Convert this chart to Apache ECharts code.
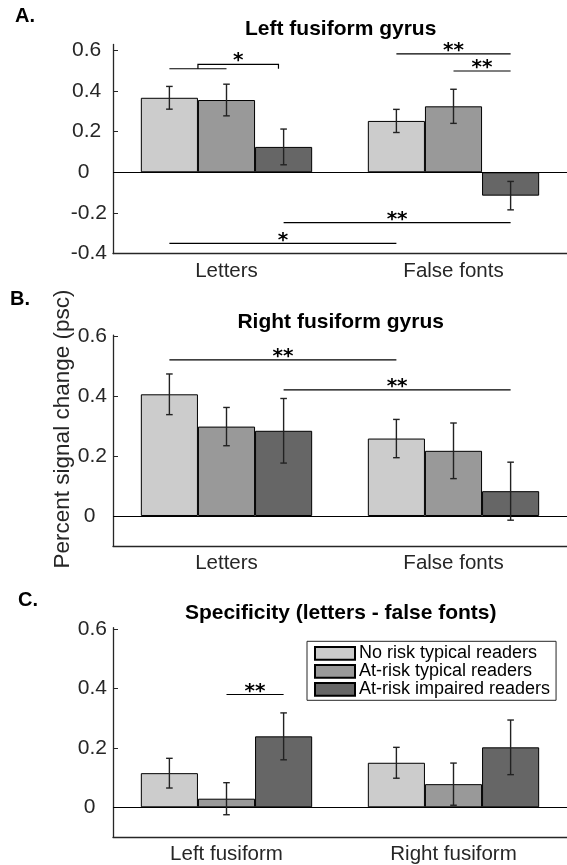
<!DOCTYPE html>
<html>
<head>
<meta charset="utf-8">
<script src="https://cdn.jsdelivr.net/npm/echarts@6/dist/echarts.min.js"></script>
<style>
  html, body { margin: 0; padding: 0; background: #fff; }
  #chart { width: 567px; height: 865px; }
</style>
</head>
<body>
<div id="chart"></div>
<script>
// ---------------- data ----------------
const groupNames = ['No risk typical readers', 'At-risk typical readers', 'At-risk impaired readers'];
const conditionCats = ['Letters', 'False fonts'];
const regionCats = ['Left fusiform', 'Right fusiform'];
const panelTitles = ['Left fusiform gyrus', 'Right fusiform gyrus', 'Specificity (letters - false fonts)'];
const panelLetters = ['A.', 'B.', 'C.'];
const yAxisTitle = 'Percent signal change (psc)';

// Panel A: left fusiform gyrus
const leftNoRisk = [0.367, 0.253];
const leftNoRiskErr = [0.056, 0.057];
const leftTypical = [0.356, 0.325];
const leftTypicalErr = [0.078, 0.084];
const leftImpaired = [0.125, -0.115];
const leftImpairedErr = [0.088, 0.070];

// Panel B: right fusiform gyrus
const rightNoRisk = [0.407, 0.259];
const rightNoRiskErr = [0.068, 0.064];
const rightTypical = [0.299, 0.218];
const rightTypicalErr = [0.064, 0.093];
const rightImpaired = [0.285, 0.083];
const rightImpairedErr = [0.108, 0.097];

// Panel C: specificity
const specNoRisk = [0.115, 0.150];
const specNoRiskErr = [0.050, 0.052];
const specTypical = [0.029, 0.078];
const specTypicalErr = [0.054, 0.071];
const specImpaired = [0.239, 0.202];
const specImpairedErr = [0.079, 0.092];

// y tick labels
const yTicksA = [-0.4, -0.2, 0, 0.2, 0.4, 0.6];
const yTicksBC = [0, 0.2, 0.4, 0.6];

// significance annotations: from/to = [category index, bar index], y = height of line
const sigA = [
  { from: [0, 0], to: [0, 1], y: 0.510, text: '' },
  { from: [0, 0.5], to: [0, 1.91], y: 0.510, top: 0.532, text: '*' },
  { from: [1, 0], to: [1, 2], y: 0.583, text: '**' },
  { from: [1, 1], to: [1, 2], y: 0.499, text: '**' },
  { from: [0, 2], to: [1, 2], y: -0.248, text: '**' },
  { from: [0, 0], to: [1, 0], y: -0.350, text: '*' }
];
const sigB = [
  { from: [0, 0], to: [1, 0], y: 0.522, text: '**' },
  { from: [0, 2], to: [1, 2], y: 0.422, text: '**' }
];
const sigC = [
  { from: [0, 1], to: [0, 2], y: 0.380, text: '**' }
];

// ---------------- styling / layout ----------------
const FONT = '"Liberation Sans", Arial, Helvetica, sans-serif';
const AXIS_COLOR = '#262626';
const barColors = ['#cccccc', '#999999', '#666666'];
const BW = 0.2516; // bar width as fraction of a category band

const panels = [
  { cats: conditionCats, vals: [leftNoRisk, leftTypical, leftImpaired], errs: [leftNoRiskErr, leftTypicalErr, leftImpairedErr],
    sig: sigA, ticks: yTicksA, min: -0.4, max: 0.63, grid: { left: 113, top: 44.4, width: 455.4, height: 209.1 },
    pad: { pos: ' ', zero: '   ', neg: '' }, titleY: 29, letter: { x: 15, y: 16 } },
  { cats: conditionCats, vals: [rightNoRisk, rightTypical, rightImpaired], errs: [rightNoRiskErr, rightTypicalErr, rightImpairedErr],
    sig: sigB, ticks: yTicksBC, min: -0.1, max: 0.605, grid: { left: 113, top: 335.1, width: 455.4, height: 210.8 },
    pad: { pos: '', zero: '  ', neg: '' }, titleY: 322, letter: { x: 10, y: 299 } },
  { cats: regionCats, vals: [specNoRisk, specTypical, specImpaired], errs: [specNoRiskErr, specTypicalErr, specImpairedErr],
    sig: sigC, ticks: yTicksBC, min: -0.1, max: 0.605, grid: { left: 113, top: 627.7, width: 455.4, height: 210.1 },
    pad: { pos: '', zero: '  ', neg: '' }, titleY: 613.5, letter: { x: 18, y: 600 } }
];

const barX = (cat, bar) => cat + 1 + (bar - 1) * BW;

const option = {
  animation: false,
  backgroundColor: '#fff',
  grid: [], xAxis: [], yAxis: [], series: [],
  legend: {
    data: groupNames,
    orient: 'vertical',
    left: 307, top: 641.3,
    padding: [3, 6, 2, 7],
    itemWidth: 40, itemHeight: 12.7, itemGap: 0,
    icon: 'rect',
    selectedMode: false,
    backgroundColor: '#fff',
    borderColor: AXIS_COLOR, borderWidth: 1, borderRadius: 0,
    textStyle: { fontFamily: FONT, fontSize: 18, lineHeight: 17.5, color: '#000', padding: [0, 0, 0, -1] }
  },
  graphic: []
};

panels.forEach((p, g) => {
  option.grid.push(Object.assign({ containLabel: false }, p.grid));
  option.xAxis.push({
    type: 'category', gridIndex: g, data: p.cats,
    axisLine: { onZero: false, lineStyle: { color: AXIS_COLOR, width: 1.3 } },
    axisTick: { inside: true, length: 5, alignWithLabel: true, lineStyle: { color: AXIS_COLOR, width: 1 } },
    axisLabel: { fontFamily: FONT, fontSize: 20.5, color: AXIS_COLOR, margin: 7, interval: 0 },
    splitLine: { show: false }
  });
  option.xAxis.push({ type: 'value', gridIndex: g, min: 0.5, max: 2.5, show: false });
  const pad = p.pad;
  option.yAxis.push({
    type: 'value', gridIndex: g, min: p.min, max: p.max,
    axisLine: { show: true, onZero: false, lineStyle: { color: AXIS_COLOR, width: 1.3 } },
    axisTick: { show: true, inside: true, length: 5, customValues: p.ticks, lineStyle: { color: AXIS_COLOR, width: 1 } },
    axisLabel: {
      customValues: p.ticks, fontFamily: FONT, fontSize: 21, color: AXIS_COLOR, margin: 6,
      formatter: v => {
        const r = Math.round(v * 10) / 10;
        if (r === 0) return '0' + pad.zero;
        return r > 0 ? String(r) + pad.pos : String(r) + pad.neg;
      }
    },
    splitLine: { show: false }
  });

  // bars
  p.vals.forEach((vals, k) => {
    const s = {
      type: 'bar', name: groupNames[k], xAxisIndex: 2 * g, yAxisIndex: g,
      data: vals, barWidth: (BW * 100) + '%', barGap: '0%',
      itemStyle: { color: barColors[k], borderColor: '#000', borderWidth: 1 },
      emphasis: { disabled: true }, z: 2
    };
    if (k === 0) {
      s.markLine = {
        silent: true, symbol: 'none', animation: false,
        label: { show: false },
        lineStyle: { color: '#000', width: 1, type: 'solid' },
        data: [{ yAxis: 0 }]
      };
    }
    option.series.push(s);
  });

  // error bars
  const errData = [];
  p.vals.forEach((vals, k) => {
    vals.forEach((v, i) => {
      errData.push([barX(i, k), v - p.errs[k][i], v + p.errs[k][i]]);
    });
  });
  option.series.push({
    type: 'custom', xAxisIndex: 2 * g + 1, yAxisIndex: g, data: errData, z: 5, silent: true,
    renderItem: (params, api) => {
      const lo = api.coord([api.value(0), api.value(1)]);
      const hi = api.coord([api.value(0), api.value(2)]);
      const c = 3.3;
      const st = { stroke: '#222', lineWidth: 1.4 };
      return { type: 'group', children: [
        { type: 'line', shape: { x1: lo[0], y1: lo[1], x2: hi[0], y2: hi[1] }, style: st },
        { type: 'line', shape: { x1: lo[0] - c, y1: lo[1], x2: lo[0] + c, y2: lo[1] }, style: st },
        { type: 'line', shape: { x1: hi[0] - c, y1: hi[1], x2: hi[0] + c, y2: hi[1] }, style: st }
      ]};
    }
  });

  // significance annotations
  const sigList = p.sig;
  option.series.push({
    type: 'custom', xAxisIndex: 2 * g + 1, yAxisIndex: g, z: 6, silent: true, clip: false,
    data: sigList.map(a => [barX(a.from[0], a.from[1]), barX(a.to[0], a.to[1]), a.y, a.top != null ? a.top : a.y]),
    renderItem: (params, api) => {
      const a = sigList[params.dataIndex];
      const x1 = api.value(0), x2 = api.value(1), y = api.value(2), top = api.value(3);
      const st = { stroke: '#000', lineWidth: 1.2, fill: null };
      const children = [];
      let pts;
      if (top !== y) {
        pts = [api.coord([x1, y]), api.coord([x1, top]), api.coord([x2, top]), api.coord([x2, y])];
      } else {
        pts = [api.coord([x1, y]), api.coord([x2, y])];
      }
      children.push({ type: 'polyline', shape: { points: pts }, style: st });
      if (a.text) {
        const mid = api.coord([(x1 + x2) / 2, top]);
        children.push({ type: 'text', x: mid[0], y: mid[1] - 3,
          style: { text: a.text, fontFamily: '"DejaVu Sans", sans-serif', fontWeight: 'bold', fontSize: 20, fill: '#000',
                   align: 'center', verticalAlign: 'middle' } });
      }
      return { type: 'group', children };
    }
  });

  // title and panel letter
  option.graphic.push({
    type: 'text', x: p.grid.left + p.grid.width / 2, y: p.titleY, silent: true,
    style: { text: panelTitles[g], fontFamily: FONT, fontWeight: 'bold', fontSize: 21, fill: '#000',
             align: 'center', verticalAlign: 'middle' }
  });
  option.graphic.push({
    type: 'text', x: p.letter.x, y: p.letter.y, silent: true,
    style: { text: panelLetters[g], fontFamily: FONT, fontWeight: 'bold', fontSize: 20, fill: '#000',
             align: 'left', verticalAlign: 'middle' }
  });
});

option.graphic.push({
  type: 'text', x: 63, y: 429, rotation: Math.PI / 2, silent: true,
  style: { text: yAxisTitle, fontFamily: FONT, fontSize: 22.5, fill: AXIS_COLOR, align: 'center', verticalAlign: 'middle' }
});

const chart = echarts.init(document.getElementById('chart'), null, { renderer: 'canvas' });
chart.setOption(option);
</script>
</body>
</html>
